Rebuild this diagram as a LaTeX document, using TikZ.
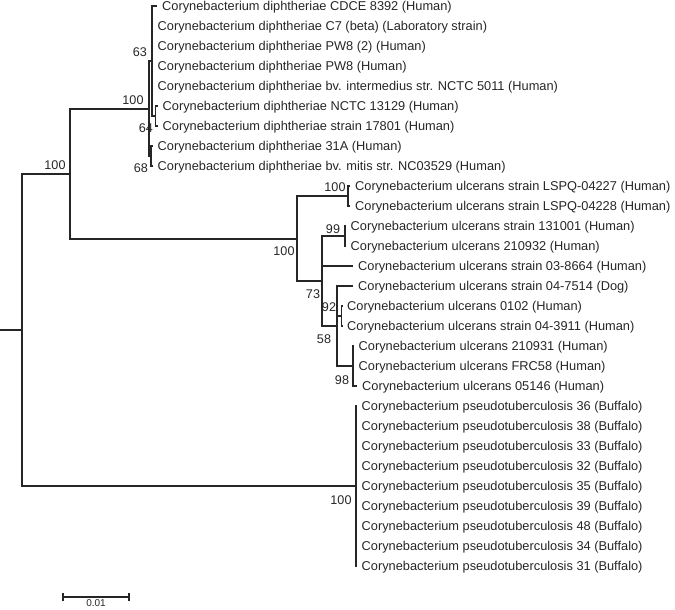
\documentclass[tikz,border=0pt]{standalone}
\usepackage{fontspec}
\setmainfont{Liberation Sans}
\begin{document}
\begin{tikzpicture}[x=1pt,y=-1pt,
  br/.style={line width=1.7pt, draw=black!85},
  leaf/.style={anchor=west, inner xsep=5pt, inner ysep=0pt, text height=9.2pt, text depth=0pt,
    font=\fontsize{12.8}{15}\selectfont, text=black!85},
  bs/.style={inner sep=0pt, font=\fontsize{12.6}{14}\selectfont, text=black!85}]
\useasboundingbox (0,0) rectangle (675,610);
% internal nodes
\coordinate (R0) at (0,330);
\coordinate (R) at (22,330);
\coordinate (A) at (70,174);
\coordinate (D) at (149,109);
\coordinate (N63) at (152,61);
\coordinate (N64) at (155.5,116);
\coordinate (N68) at (151,156);
\coordinate (U) at (297,239);
\coordinate (L) at (348,196);
\coordinate (N73) at (322,281);
\coordinate (N99) at (345,236);
\coordinate (N58) at (337,326);
\coordinate (N92) at (341.5,316);
\coordinate (N98) at (353,366);
\coordinate (P) at (356,486);
% leaves
\node[leaf] (l1) at (157,6) {Corynebacterium diphtheriae CDCE 8392 (Human)};
\node[leaf] (l2) at (152.5,26) {Corynebacterium diphtheriae C7 (beta) (Laboratory strain)};
\node[leaf] (l3) at (152.5,46) {Corynebacterium diphtheriae PW8 (2) (Human)};
\node[leaf] (l4) at (152.5,66) {Corynebacterium diphtheriae PW8 (Human)};
\node[leaf] (l5) at (152.5,86) {Corynebacterium diphtheriae bv. intermedius str. NCTC 5011 (Human)};
\node[leaf] (l6) at (157.5,106) {Corynebacterium diphtheriae NCTC 13129 (Human)};
\node[leaf] (l7) at (157.5,126) {Corynebacterium diphtheriae strain 17801 (Human)};
\node[leaf] (l8) at (152.5,146) {Corynebacterium diphtheriae 31A (Human)};
\node[leaf] (l9) at (152.5,166) {Corynebacterium diphtheriae bv. mitis str. NC03529 (Human)};
\node[leaf] (l10) at (350,186) {Corynebacterium ulcerans strain LSPQ-04227 (Human)};
\node[leaf] (l11) at (350,206) {Corynebacterium ulcerans strain LSPQ-04228 (Human)};
\node[leaf] (l12) at (345.5,226) {Corynebacterium ulcerans strain 131001 (Human)};
\node[leaf] (l13) at (345.5,246) {Corynebacterium ulcerans 210932 (Human)};
\node[leaf] (l14) at (353,266) {Corynebacterium ulcerans strain 03-8664 (Human)};
\node[leaf] (l15) at (353,286) {Corynebacterium ulcerans strain 04-7514 (Dog)};
\node[leaf] (l16) at (342,306) {Corynebacterium ulcerans 0102 (Human)};
\node[leaf] (l17) at (342,326) {Corynebacterium ulcerans strain 04-3911 (Human)};
\node[leaf] (l18) at (353.5,346) {Corynebacterium ulcerans 210931 (Human)};
\node[leaf] (l19) at (353.5,366) {Corynebacterium ulcerans FRC58 (Human)};
\node[leaf] (l20) at (357,386) {Corynebacterium ulcerans 05146 (Human)};
\foreach \n [count=\i from 21] in {36,38,33,32,35,39,48,34,31}
  \node[leaf] (l\i) at (356.5,{406+20*(\i-21)}) {Corynebacterium pseudotuberculosis \n\ (Buffalo)};
% branches
\draw[br] (R0) -- (R);
\draw[br] (R) |- (A);
\draw[br] (R) |- (P);
\draw[br] (A) |- (D);
\draw[br] (A) |- (U);
\draw[br] (D) |- (N63);
\draw[br] (D) |- (N68);
\foreach \i in {1,...,5} \draw[br] (N63) |- (l\i.west);
\draw[br] (N63) |- (N64);
\foreach \i in {6,7} \draw[br] (N64) |- (l\i.west);
\foreach \i in {8,9} \draw[br] (N68) |- (l\i.west);
\draw[br] (U) |- (L);
\draw[br] (U) |- (N73);
\foreach \i in {10,11} \draw[br] (L) |- (l\i.west);
\draw[br] (N73) |- (N99);
\draw[br] (N73) |- (l14.west);
\draw[br] (N73) |- (N58);
\foreach \i in {12,13} \draw[br] (N99) |- (l\i.west);
\draw[br] (N58) |- (l15.west);
\draw[br] (N58) |- (N92);
\draw[br] (N58) |- (N98);
\foreach \i in {16,17} \draw[br] (N92) |- (l\i.west);
\foreach \i in {18,19,20} \draw[br] (N98) |- (l\i.west);
\foreach \i in {21,...,29} \draw[br] (P) |- (l\i.west);
% bootstrap values
\node[bs] (b63) at (140,52) {63};
\node[bs] (bD) at (133,100) {100};
\node[bs] (b64) at (146,128) {64};
\node[bs] (b68) at (141,168) {68};
\node[bs] (bA) at (55,165) {100};
\node[bs] (bL) at (335,187) {100};
\node[bs] (b99) at (333,229) {99};
\node[bs] (bU) at (284,251) {100};
\node[bs] (b73) at (313,294) {73};
\node[bs] (b92) at (329,307) {92};
\node[bs] (b58) at (324,339) {58};
\node[bs] (b98) at (342,380) {98};
\node[bs] (bP) at (341,500) {100};
% scale bar
\coordinate (s1) at (63,597);
\coordinate (s2) at (129,597);
\draw[line width=1.3pt, draw=black!85] (s1) -- (s2);
\draw[line width=1.1pt, draw=black!85] ([yshift=-4pt]s1) -- ([yshift=4pt]s1);
\draw[line width=1.1pt, draw=black!85] ([yshift=-4pt]s2) -- ([yshift=4pt]s2);
\node[inner sep=0pt, font=\fontsize{10}{11}\selectfont, text=black!85] (sl) at (96,603.5) {0.01};
\end{tikzpicture}
\end{document}
